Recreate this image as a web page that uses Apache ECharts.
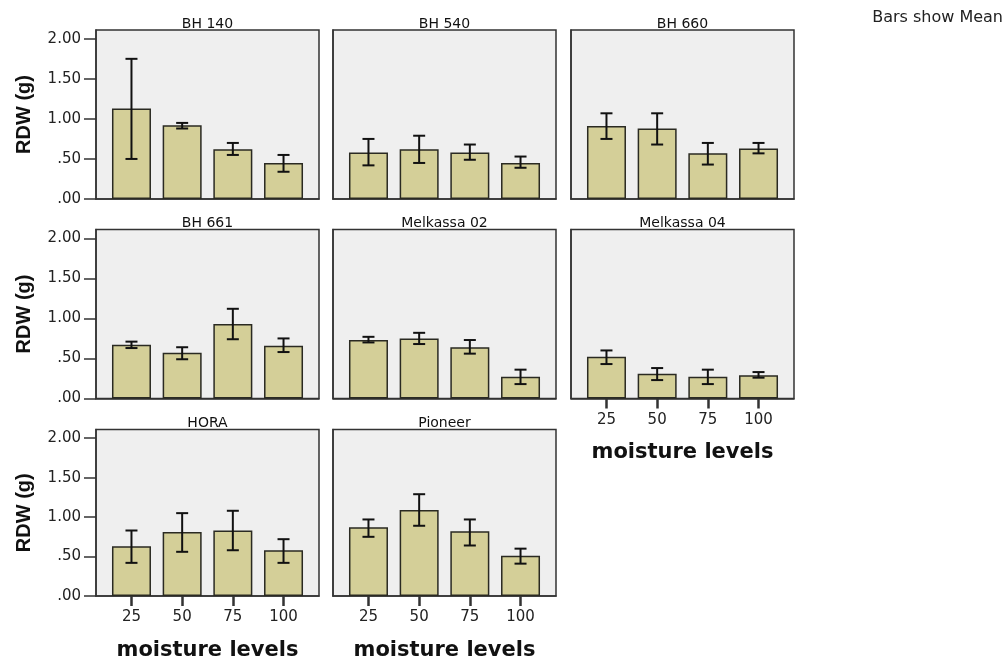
<!DOCTYPE html>
<html>
<head>
<meta charset="utf-8">
<script src="https://cdn.jsdelivr.net/npm/echarts@6/dist/echarts.min.js"></script>
<style>
  html, body { margin: 0; padding: 0; background: #ffffff; }
  #chart { width: 1005px; height: 662px; }
</style>
</head>
<body>
<div id="chart"></div>
<script>
// Root dry weight per cultivar at four moisture levels (mean with error bars)
const cultivars = ['BH 140', 'BH 540', 'BH 660', 'BH 661', 'Melkassa 02', 'Melkassa 04', 'HORA', 'Pioneer'];
const moistureLevels = ['25', '50', '75', '100'];
const yTickValues = [0, 0.5, 1, 1.5, 2];

const meanRDW = [
  [1.13, 0.92, 0.62, 0.45],
  [0.58, 0.62, 0.58, 0.45],
  [0.91, 0.88, 0.57, 0.63],
  [0.67, 0.57, 0.93, 0.66],
  [0.73, 0.75, 0.64, 0.27],
  [0.52, 0.31, 0.27, 0.29],
  [0.63, 0.81, 0.83, 0.58],
  [0.87, 1.09, 0.82, 0.51]
];
const lowerRDW = [
  [0.50, 0.88, 0.55, 0.34],
  [0.42, 0.45, 0.49, 0.39],
  [0.75, 0.68, 0.43, 0.57],
  [0.63, 0.49, 0.74, 0.58],
  [0.70, 0.68, 0.56, 0.18],
  [0.43, 0.23, 0.18, 0.26],
  [0.42, 0.56, 0.58, 0.42],
  [0.75, 0.89, 0.64, 0.41]
];
const upperRDW = [
  [1.75, 0.95, 0.70, 0.55],
  [0.75, 0.79, 0.68, 0.53],
  [1.07, 1.07, 0.70, 0.70],
  [0.71, 0.64, 1.12, 0.75],
  [0.77, 0.82, 0.73, 0.36],
  [0.60, 0.38, 0.36, 0.33],
  [0.83, 1.05, 1.08, 0.72],
  [0.97, 1.29, 0.97, 0.60]
];

// panel layout
const colLeft = [96, 333, 571];
const rowTop = [30, 229.5, 429.5];
const panelW = 223;
const panelH = 169;
const bottomPanels = [5, 6, 7];

const chart = echarts.init(document.getElementById('chart'));

const grids = [], xAxes = [], yAxes = [], series = [];
const titles = [{
  text: 'Bars show Mean',
  right: 2, top: 10, padding: 0,
  textStyle: { fontFamily: 'DejaVu Sans', fontSize: 16, fontWeight: 'normal', color: '#222' }
}];

const fmtY = v => v.toFixed(2).replace(/^0(?=\.)/, '');

cultivars.forEach((name, i) => {
  const col = i % 3, row = Math.floor(i / 3);
  const left = colLeft[col], top = rowTop[row];
  const isBottom = bottomPanels.includes(i);
  const isLeft = col === 0;

  grids.push({
    left: left, top: top, width: panelW, height: panelH,
    show: true, backgroundColor: '#efefef', borderColor: '#333', borderWidth: 1.5,
    containLabel: false
  });

  titles.push({
    text: name,
    left: left + panelW / 2, top: top - 13, padding: 0,
    textAlign: 'center',
    textStyle: { fontFamily: 'DejaVu Sans', fontSize: 14, fontWeight: 'normal', color: '#111' }
  });

  xAxes.push({
    gridIndex: i, type: 'value', min: -0.7, max: 3.7,
    splitLine: { show: false },
    axisLine: { show: true, onZero: false, lineStyle: { color: '#333', width: 1.5 } },
    axisTick: { show: isBottom, length: 10, customValues: [0, 1, 2, 3], lineStyle: { color: '#333', width: 2.5 } },
    axisLabel: {
      show: isBottom, margin: 14, customValues: [0, 1, 2, 3],
      formatter: v => moistureLevels[Math.round(v)],
      fontFamily: 'DejaVu Sans', fontSize: 15, color: '#222'
    },
    name: isBottom ? 'moisture levels' : '',
    nameLocation: 'middle', nameGap: 44,
    nameTextStyle: { fontFamily: 'DejaVu Sans', fontSize: 21, fontWeight: 'bold', color: '#111' }
  });

  yAxes.push({
    gridIndex: i, type: 'value', min: 0, max: 2.11,
    splitLine: { show: false },
    axisLine: { show: true, onZero: false, lineStyle: { color: '#333', width: 1.5 } },
    axisTick: { show: isLeft, length: 12, customValues: yTickValues, lineStyle: { color: '#333', width: 1.5 } },
    axisLabel: {
      show: isLeft, margin: 15, customValues: yTickValues, formatter: fmtY,
      fontFamily: 'DejaVu Sans', fontSize: 15, color: '#222'
    },
    name: isLeft ? 'RDW (g)' : '',
    nameLocation: 'middle', nameGap: 62,
    nameTextStyle: { fontFamily: 'Liberation Sans', fontSize: 20, fontWeight: 'bold', color: '#111' }
  });

  series.push({
    type: 'bar', xAxisIndex: i, yAxisIndex: i,
    barWidth: 39,
    data: meanRDW[i].map((v, k) => [k, v]),
    itemStyle: { color: '#d4cf98', borderColor: '#2a2a22', borderWidth: 1.5 },
    silent: true
  });

  series.push({
    type: 'custom', xAxisIndex: i, yAxisIndex: i,
    data: lowerRDW[i].map((lo, k) => [k, lo, upperRDW[i][k]]),
    encode: { x: 0, y: [1, 2] },
    z: 5, silent: true,
    renderItem: (params, api) => {
      const x = api.value(0);
      const pHi = api.coord([x, api.value(2)]);
      const pLo = api.coord([x, api.value(1)]);
      const cap = 6;
      const style = { stroke: '#111', lineWidth: 2 };
      return {
        type: 'group',
        children: [
          { type: 'line', shape: { x1: pHi[0], y1: pHi[1], x2: pLo[0], y2: pLo[1] }, style: style },
          { type: 'line', shape: { x1: pHi[0] - cap, y1: pHi[1], x2: pHi[0] + cap, y2: pHi[1] }, style: style },
          { type: 'line', shape: { x1: pLo[0] - cap, y1: pLo[1], x2: pLo[0] + cap, y2: pLo[1] }, style: style }
        ]
      };
    }
  });
});

chart.setOption({
  animation: false,
  backgroundColor: '#ffffff',
  title: titles,
  grid: grids,
  xAxis: xAxes,
  yAxis: yAxes,
  series: series
});
</script>
</body>
</html>
